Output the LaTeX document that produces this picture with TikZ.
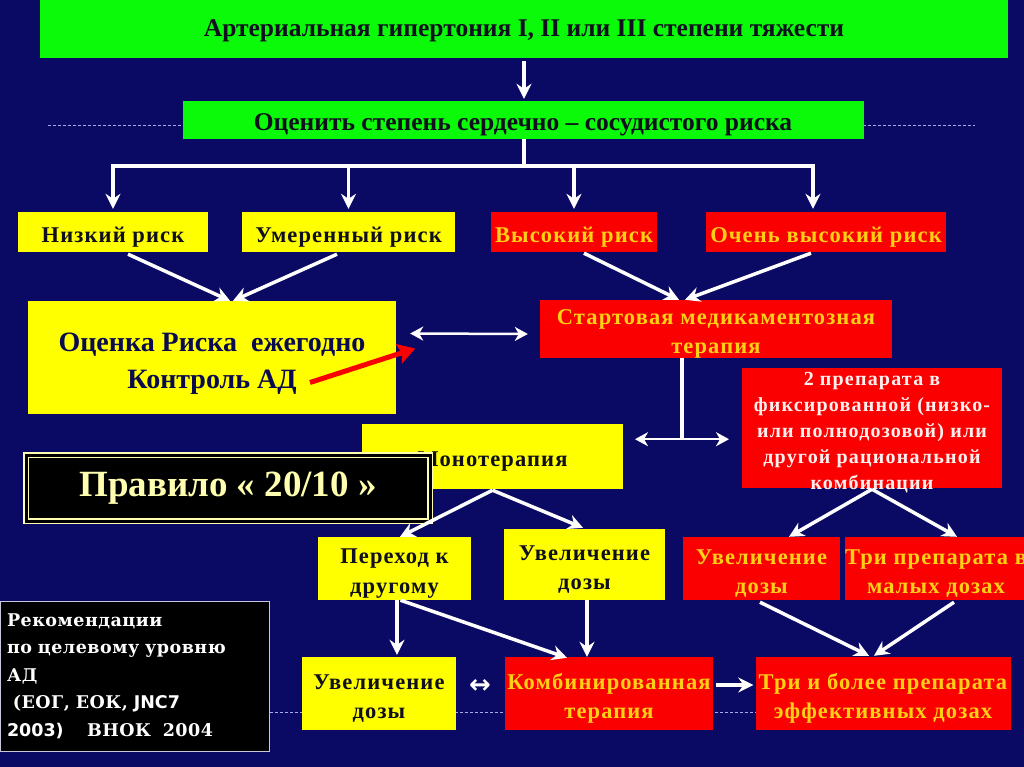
\documentclass[tikz,border=0pt]{standalone}
\usepackage{fontspec}
\setmainfont{Liberation Serif}
\newfontfamily\lsfont{Liberation Serif}[LetterSpace=5]
\newfontfamily\lsfontb{Liberation Serif}[LetterSpace=6]
\newfontfamily\dvsans{DejaVu Sans}
\newfontfamily\dvserif{DejaVu Serif}[LetterSpace=3]
\usetikzlibrary{arrows.meta,calc}
\definecolor{bg}{RGB}{10,10,100}
\definecolor{gre}{RGB}{10,250,10}
\definecolor{yel}{RGB}{255,255,0}
\definecolor{red1}{RGB}{250,0,0}
\definecolor{gold}{RGB}{255,208,20}
\definecolor{dark}{RGB}{15,15,30}
\definecolor{navy}{RGB}{10,10,80}
\definecolor{cream}{RGB}{255,255,175}
\definecolor{pinkw}{RGB}{255,240,240}
\definecolor{dashc}{RGB}{170,170,235}
\definecolor{recoborder}{RGB}{200,200,220}
\newcommand{\fsz}[2]{\fontsize{#1}{#2}\selectfont}
\tikzset{
  box/.style={rectangle, inner sep=0pt, align=center},
  txt/.style={inner sep=0pt, align=center, yshift=-5pt},
  glab/.style={txt, text=dark, font=\bfseries\fsz{25.5}{28}},
  ylab/.style={txt, text=dark, font=\lsfont\bfseries\fsz{22.5}{29.5}},
  rlab/.style={txt, text=gold, font=\lsfont\bfseries\fsz{22.5}{29.5}},
  gbox/.style={box, fill=gre},
  ybox/.style={box, fill=yel},
  rbox/.style={box, fill=red1},
  wline/.style={draw=white, line width=3.5pt},
  arr/.style={draw=white, line width=3.5pt, -{Stealth[length=15pt,width=15pt,inset=5pt]}},
  dbl/.style={draw=white, line width=2.5pt, {Stealth[length=13pt,width=14pt,inset=4pt]}-{Stealth[length=13pt,width=14pt,inset=4pt]}},
  redarr/.style={draw=red1, line width=5pt, -{Stealth[length=17pt,width=20pt,inset=3pt]}},
  dashline/.style={draw=dashc, line width=1pt, dash pattern=on 3pt off 2pt},
}
\begin{document}
\begin{tikzpicture}[x=1pt,y=-1pt]
\useasboundingbox[fill=bg] (0,0) rectangle (1024,767);
% dashed guide lines
\draw[dashline] (48,126) -- (975,126);
\draw[dashline] (100,712) -- (1000,712);
% top
\node[gbox, minimum width=968, minimum height=58, label={[glab, yshift=3pt]center:Артериальная гипертония I, II или III степени тяжести}] (g1) at (524,29) {};
\node[gbox, minimum width=681, minimum height=38, label={[glab]center:Оценить степень сердечно – сосудистого риска}] (g2) at (523,120) {};
\draw[arr] ($(g1.south)+(0,3)$) -- ($(g2.north -| g1.south)+(0,-2)$);
\coordinate (hub) at ($(g2.south -| g1.south)+(0,27)$);
% risk boxes
\node[ybox, minimum width=190, minimum height=40, label={[ylab]center:Низкий риск}] (low) at (113,232) {};
\node[ybox, minimum width=213, minimum height=40, label={[ylab]center:Умеренный риск}] (mod) at (348.5,232) {};
\node[rbox, minimum width=166, minimum height=40, label={[rlab]center:Высокий риск}] (high) at (574,232) {};
\node[rbox, minimum width=240, minimum height=40, label={[rlab]center:Очень высокий риск}] (vhigh) at (826,232) {};
\coordinate (bl) at (hub -| low.north);
\coordinate (br) at ($(hub -| vhigh.north)+(-13,0)$);
\draw[wline] (g2.south -| hub) -- (hub);
\draw[wline, line cap=rect] (bl) -- (br);
\draw[arr] (bl) -- ($(low.north)+(0,-3)$);
\draw[arr] (hub -| mod.north) -- ($(mod.north)+(0,-3)$);
\draw[arr] (hub -| high.north) -- ($(high.north)+(0,-3)$);
\draw[arr] (br) -- ($(vhigh.north)+(-13,-3)$);
% second level
\node[ybox, minimum width=368, minimum height=113, label={[txt, yshift=-1pt, text=navy, font=\bfseries\fsz{28}{37}]center:{Оценка Риска\ \ ежегодно\\Контроль АД}}] (ocenka) at (212,357.5) {};
\node[rbox, minimum width=352, minimum height=58, label={[rlab]center:{Стартовая медикаментозная\\терапия}}] (start) at (716,329) {};
\draw[arr] ($(low.south)+(15,2)$) -- ($(ocenka.north)+(18,0)$);
\draw[arr] ($(mod.south)+(-11.5,2)$) -- ($(ocenka.north)+(21,0)$);
\draw[arr] ($(high.south)+(10,1)$) -- ($(start.north)+(-37,0)$);
\draw[arr] ($(vhigh.south)+(-15,1)$) -- ($(start.north)+(-31,0)$);
\draw[dbl] ($(ocenka.east)+(14,-24)$) -- ($(start.west)+(-12,5)$);
\draw[redarr] ($(ocenka.center)+(98,25)$) -- ($(ocenka.east)+(19,-9)$);
% therapy choice
\node[ybox, minimum width=261, minimum height=65, label={[ylab]center:Монотерапия}] (mono) at (492.5,456.5) {};
\node[rbox, minimum width=260, minimum height=120, label={[txt, text=pinkw, font=\lsfontb\bfseries\fsz{20}{26}]center:{2 препарата в\\фиксированной (низко-\\или полнодозовой) или\\другой рациональной\\комбинации}}] (two) at (872,428) {};
\coordinate (split) at ($(start.south)+(-34,81)$);
\draw[wline] ($(start.south)+(-34,0)$) -- (split);
\draw[dbl] ($(split)+(-47,0)$) -- ($(split)+(47,0)$);
% rule box
\node[box, fill=black, draw=cream, line width=1.5pt, double=black, double distance=3pt, text=cream, font=\bfseries\fsz{37}{40}, minimum width=404, minimum height=66] (rule) at (228,488) {Правило « 20/10 »};
% third level
\node[ybox, minimum width=153, minimum height=63, label={[ylab]center:{Переход к\\другому}}] (perehod) at (394.5,568.5) {};
\node[ybox, minimum width=161, minimum height=71, label={[ylab]center:{Увеличение\\дозы}}] (uvel1) at (584.5,564.5) {};
\node[rbox, minimum width=157, minimum height=63, label={[rlab]center:{Увеличение\\дозы}}] (uvel2) at (761.5,568.5) {};
\node[rbox, minimum width=182, minimum height=63, label={[rlab]center:{Три препарата в\\малых дозах}}] (tri) at (936,568.5) {};
\draw[arr] ($(mono.south)+(0,1)$) -- ($(perehod.north)+(5.5,0)$);
\draw[arr] ($(mono.south)+(0,1)$) -- ($(uvel1.north)+(-1.5,-1)$);
\draw[arr] ($(two.south)+(0,1)$) -- ($(uvel2.north)+(27.5,0)$);
\draw[arr] ($(two.south)+(0,1)$) -- ($(tri.north)+(21,0)$);
% bottom level
\node[ybox, minimum width=154, minimum height=73, label={[ylab]center:{Увеличение\\дозы}}] (uvel3) at (379,693.5) {};
\node[rbox, minimum width=208, minimum height=73, label={[rlab]center:{Комбинированная\\терапия}}] (komb) at (609,693.5) {};
\node[rbox, minimum width=255, minimum height=73, label={[rlab]center:{Три и более препарата\\эффективных дозах}}] (tri2) at (883,693.5) {};
\node[text=white, font=\dvsans\bfseries\fsz{26}{26}, inner sep=0pt] (lr) at (480,686) {↔};
\draw[arr] ($(perehod.south)+(2.5,0)$) -- ($(uvel3.north)+(18,-2)$);
\draw[arr] ($(perehod.south)+(6,0)$) -- ($(komb.north)+(-42,1)$);
\draw[arr] ($(uvel1.south)+(2.5,0)$) -- ($(komb.north)+(-22,0)$);
\draw[arr] ($(komb.east)+(3,-8.5)$) -- ($(tri2.west)+(-2,-8.5)$);
\draw[arr] ($(uvel2.south)+(-1.5,2)$) -- ($(tri2.north)+(-14,-1)$);
\draw[arr] ($(tri.south)+(18,2)$) -- ($(tri2.north)+(-9,-1)$);
% recommendations
\node[box, fill=black, draw=recoborder, line width=1pt, text=white, align=left, text width=255, minimum width=269, minimum height=150, font=\dvserif\bfseries\fsz{17.5}{27.5}] (reco) at (134.5,676) {Рекомендации\\по целевому уровню\\АД\\\ (ЕОГ, ЕОК, {\dvsans\bfseries JNC7}\\{\dvsans\bfseries 2003)}\ \ \ \ ВНОК\ \ 2004};
\end{tikzpicture}
\end{document}
